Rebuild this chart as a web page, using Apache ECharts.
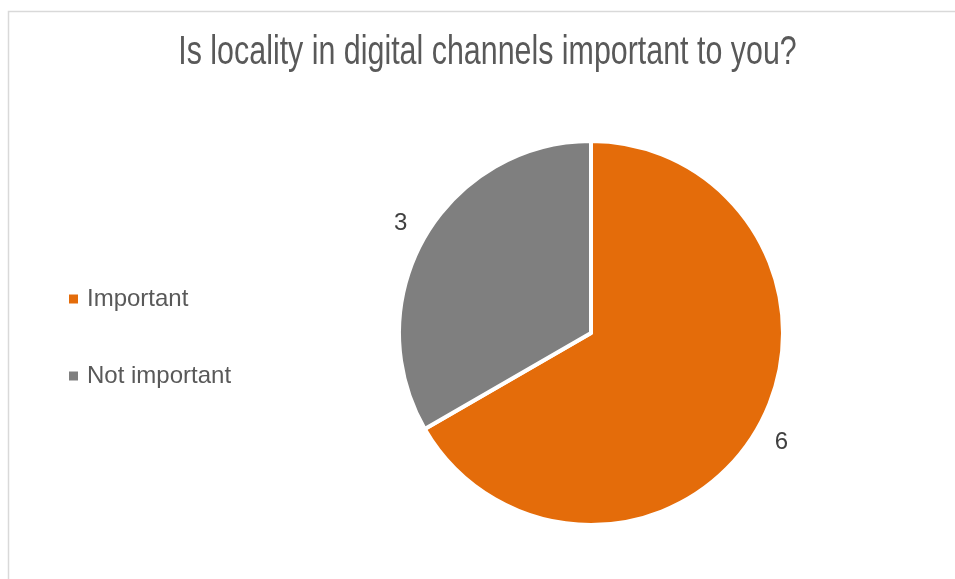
<!DOCTYPE html>
<html>
<head>
<meta charset="utf-8">
<script src="https://cdn.jsdelivr.net/npm/echarts@6/dist/echarts.min.js"></script>
<style>
  html, body { margin: 0; padding: 0; background: #fff; }
  #chart { width: 955px; height: 579px; }
</style>
</head>
<body>
<div id="chart"></div>
<script>
// Survey answers
const categories = ['Important', 'Not important'];
const counts = [6, 3];
const colors = ['#E46C0A', '#7F7F7F'];
const titleText = 'Is locality in digital channels important to you?';

const font = '"Liberation Sans", Arial, sans-serif';

const chart = echarts.init(document.getElementById('chart'));
chart.setOption({
  animation: false,
  color: colors,
  legend: {
    orient: 'vertical',
    left: 62,
    top: 282,
    padding: 5,
    itemWidth: 11,
    itemHeight: 11,
    itemGap: 53,
    icon: 'rect',
    data: categories,
    textStyle: { fontFamily: font, fontSize: 24, color: '#595959', padding: [0, 0, 0, 3] }
  },
  graphic: [{
    // chart frame
    type: 'rect',
    silent: true,
    shape: { x: 8.5, y: 11.5, width: 1200, height: 1200 },
    style: { fill: 'none', stroke: '#d9d9d9', lineWidth: 1.5 }
  }, {
    // condensed chart title
    type: 'text',
    silent: true,
    x: 487.5,
    y: 53,
    scaleX: 0.76,
    style: {
      text: titleText,
      x: 0,
      y: 0,
      align: 'center',
      verticalAlign: 'middle',
      font: '40px "Liberation Sans", Arial, sans-serif',
      fill: '#595959'
    }
  }],
  series: [{
    type: 'pie',
    center: [591, 333],
    radius: 192,
    startAngle: 90,
    clockwise: true,
    data: categories.map((name, i) => ({ name, value: counts[i] })),
    itemStyle: { borderColor: '#fff', borderWidth: 4 },
    label: {
      show: true,
      position: 'outside',
      formatter: '{c}',
      fontFamily: font,
      fontSize: 24,
      color: '#404040',
      distanceToLabelLine: -6
    },
    labelLine: { show: false, length: 27, length2: 0 },
    emphasis: { disabled: true }
  }]
});
</script>
</body>
</html>
